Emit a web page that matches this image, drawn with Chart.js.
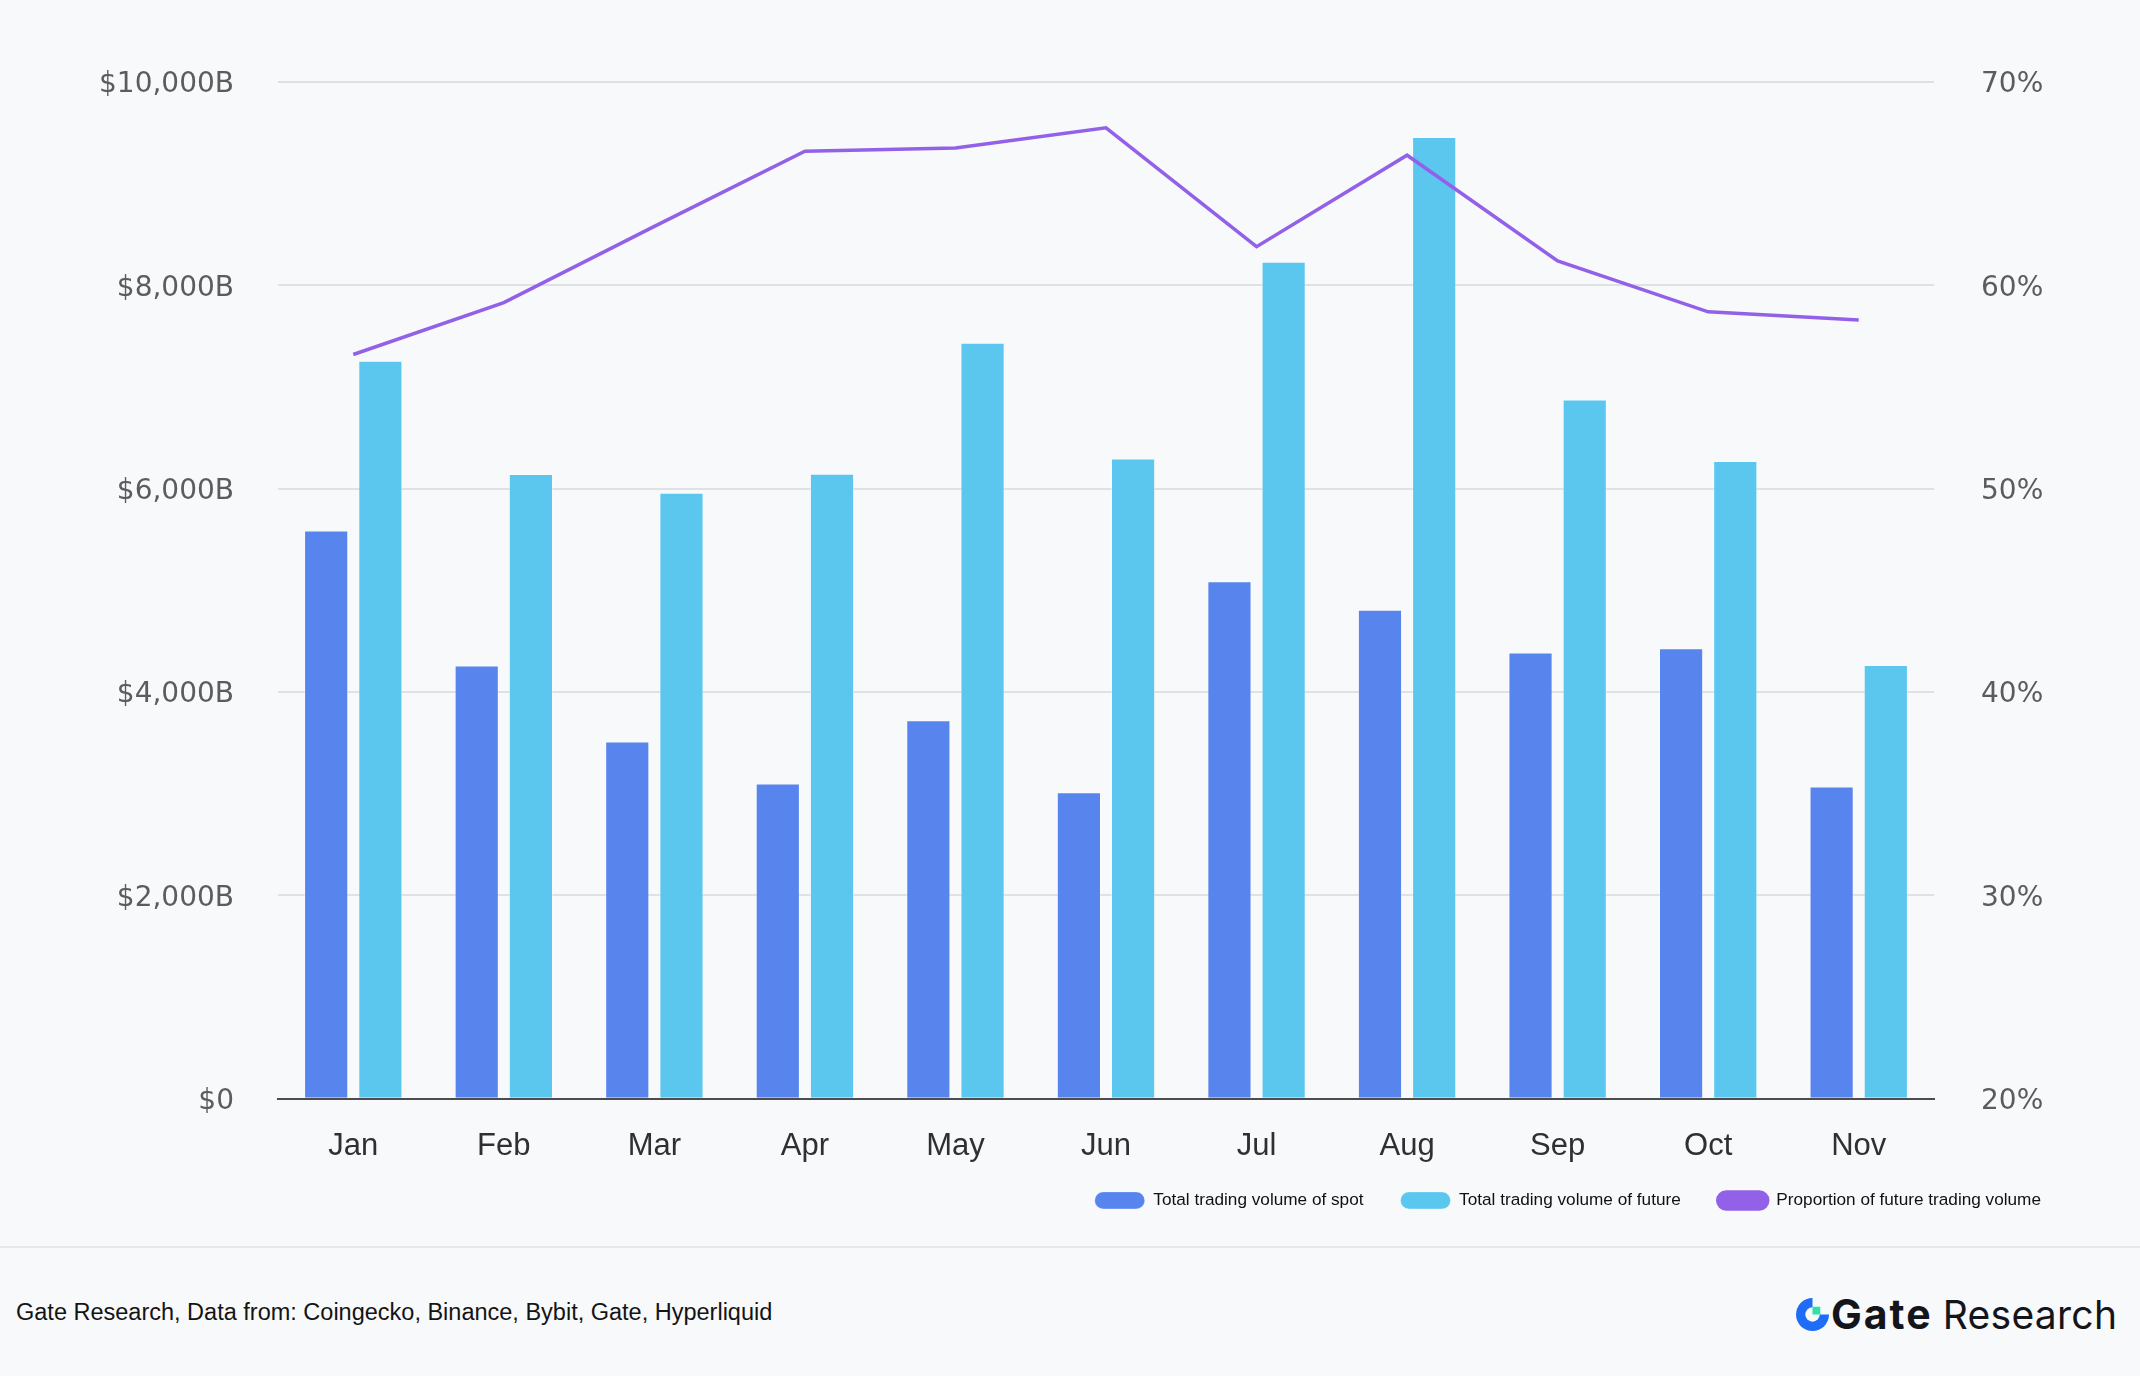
<!DOCTYPE html>
<html>
<head>
<meta charset="utf-8">
<script src="https://cdn.jsdelivr.net/npm/chart.js@4.4.1/dist/chart.umd.min.js"></script>
<style>
  html, body { margin: 0; padding: 0; background: #f8f9fb; }
  #wrap { position: relative; width: 2140px; height: 1376px; background: #f8f9fb; overflow: hidden; }
  #chart-box { position: absolute; left: 0; top: 0; width: 2140px; height: 1246px; }
  #footer { position: absolute; left: 0; top: 1246px; width: 2140px; height: 130px; border-top: 2px solid #e6e8ec; box-sizing: border-box; }
  #source { position: absolute; left: 16px; top: 51px; font-family: "Liberation Sans", Arial, sans-serif; font-size: 23.5px; color: #141414; }
  #brand { position: absolute; left: 1796px; top: 46px; display: flex; align-items: center; height: 40px; }
  #brand svg { width: 33px; height: 33px; margin-right: 2px; }
  #brand .g { font-family: Inter, sans-serif; font-weight: 700; font-size: 41px; color: #14151a; letter-spacing: 2px; }
  #brand .r { font-family: Inter, sans-serif; font-weight: 400; font-size: 39px; color: #14151a; margin-left: 10px; letter-spacing: 0.3px; }
</style>
</head>
<body>
<div id="wrap">
  <div id="chart-box"><canvas id="chart"></canvas></div>
  <div id="footer">
    <div id="source">Gate Research, Data from: Coingecko, Binance, Bybit, Gate, Hyperliquid</div>
    <div id="brand">
      <svg viewBox="0 0 32 32">
        <circle cx="16" cy="16" r="16" fill="#1f6cf6"/>
        <circle cx="16" cy="16" r="7" fill="#f8f9fb"/>
        <rect x="16" y="0" width="16" height="16" fill="#f8f9fb"/>
        <rect x="16" y="8.5" width="7.5" height="7.5" fill="#2de2a3"/>
      </svg>
      <span class="g">Gate</span><span class="r">Research</span>
    </div>
  </div>
</div>
<script>
// monthly data, values in billions of USD / percent
const months = ['Jan', 'Feb', 'Mar', 'Apr', 'May', 'Jun', 'Jul', 'Aug', 'Sep', 'Oct', 'Nov'];
const spotVolume = [5590, 4262, 3515, 3100, 3723, 3016, 5090, 4810, 4390, 4430, 3072];
const futureVolume = [7259, 6145, 5960, 6146, 7436, 6296, 8232, 9460, 6878, 6272, 4266];
const futureShare = [56.6, 59.15, 62.9, 66.6, 66.75, 67.75, 61.9, 66.4, 61.2, 58.7, 58.3];

const leftTicks = [0, 2000, 4000, 6000, 8000, 10000];
const rightTicks = [20, 30, 40, 50, 60, 70];

const seriesNames = ['Total trading volume of spot', 'Total trading volume of future', 'Proportion of future trading volume'];
const seriesColors = ['#5884ee', '#5bc7ef', '#9361e8'];

// x axis is kept short so the legend sits close to it; let the month labels
// draw below the axis box instead of being clipped
const unclipX = {
    id: 'unclipX',
    afterLayout(chart) { chart.scales.x.bottom = chart.height; }
};

const ctx = document.getElementById('chart');

new Chart(ctx, {
    data: {
        labels: months,
        datasets: [
            {
                type: 'bar', label: seriesNames[0], data: spotVolume, yAxisID: 'y',
                backgroundColor: seriesColors[0], borderColor: 'rgba(255,255,255,0.3)', borderWidth: 1,
                order: 2, categoryPercentage: 0.72, barPercentage: 0.815
            },
            {
                type: 'bar', label: seriesNames[1], data: futureVolume, yAxisID: 'y',
                backgroundColor: seriesColors[1], borderColor: 'rgba(255,255,255,0.3)', borderWidth: 1,
                order: 2, categoryPercentage: 0.72, barPercentage: 0.815
            },
            {
                type: 'line', label: seriesNames[2], data: futureShare, yAxisID: 'y1',
                borderColor: seriesColors[2], backgroundColor: seriesColors[2],
                borderWidth: 3.5, pointRadius: 0, tension: 0, order: 1
            }
        ]
    },
    plugins: [unclipX],
    options: {
        responsive: true,
        maintainAspectRatio: false,
        animation: false,
        layout: { padding: { left: 0, right: 62, top: 82, bottom: 27 } },
        plugins: {
            tooltip: { enabled: false },
            legend: {
                position: 'bottom',
                align: 'end',
                labels: {
                    sort: (a, b) => a.datasetIndex - b.datasetIndex,
                    boxWidth: 50, boxHeight: 17,
                    useBorderRadius: true, borderRadius: 8.5,
                    padding: 37,
                    color: '#111111',
                    font: { family: 'Liberation Sans, Arial, sans-serif', size: 17.2 }
                }
            }
        },
        scales: {
            x: {
                grid: { display: false, drawTicks: false },
                border: { display: true, color: '#4d4d4f', width: 2 },
                ticks: { padding: 29, color: '#303030', font: { family: 'Liberation Sans, Arial, sans-serif', size: 31 } },
                afterFit: (s) => { s.height = 56; }
            },
            y: {
                position: 'left',
                min: 0, max: 10000,
                afterBuildTicks: (s) => { s.ticks = leftTicks.map(v => ({ value: v })); },
                grid: { color: '#dfe1e5', lineWidth: 2, drawTicks: false },
                border: { display: false },
                ticks: {
                    padding: 44, color: '#5c5c5e', labelOffset: 3,
                    font: { family: 'DejaVu Sans, sans-serif', size: 28 },
                    callback: (v) => v === 0 ? '$0' : '$' + v.toLocaleString('en-US') + 'B'
                },
                afterFit: (s) => { s.width = 278; }
            },
            y1: {
                position: 'right',
                min: 20, max: 70,
                afterBuildTicks: (s) => { s.ticks = rightTicks.map(v => ({ value: v })); },
                grid: { drawOnChartArea: false, drawTicks: false },
                border: { display: false },
                ticks: {
                    padding: 47, color: '#5c5c5e', labelOffset: 3,
                    font: { family: 'DejaVu Sans, sans-serif', size: 28 },
                    callback: (v) => v + '%'
                },
                afterFit: (s) => { s.width = 144; }
            }
        }
    }
});
</script>
</body>
</html>
